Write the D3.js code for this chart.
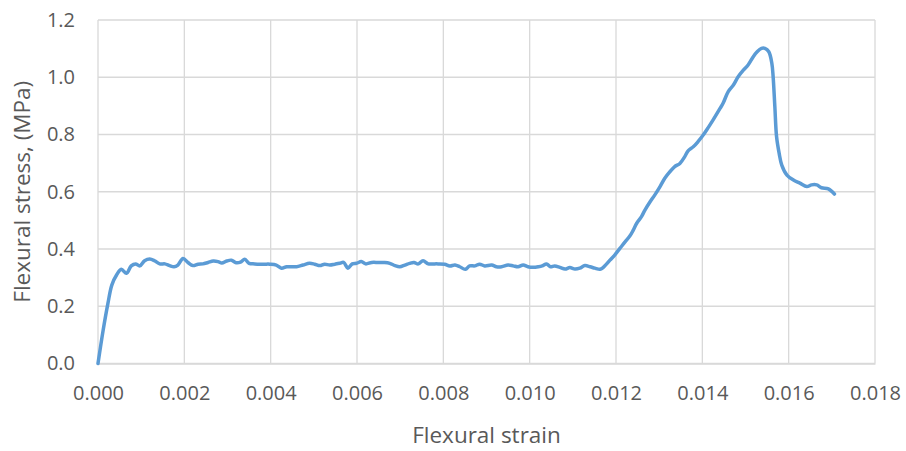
<!DOCTYPE html>
<html>
<head>
<meta charset="utf-8">
<script src="https://cdn.jsdelivr.net/npm/d3@7"></script>
<style>
  body { margin: 0; background: #fff; }
  text { font-family: "Open Sans", sans-serif; fill: #595959; }
</style>
</head>
<body>
<div id="visualization"></div>
<script>
// flexural strain (x) and stress in MPa (y)
var strain = [0, 0.00012, 0.00023, 0.00032, 0.00043, 0.00054, 0.00066, 0.00077, 0.00087, 0.00097,
  0.00108, 0.0012, 0.00131, 0.00143, 0.00155, 0.00166, 0.00176, 0.00185, 0.00197, 0.00209,
  0.0022, 0.00232, 0.00243, 0.00255, 0.00267, 0.00278, 0.00287, 0.00298, 0.00309, 0.0032,
  0.0033, 0.0034, 0.0035, 0.00363, 0.00375, 0.00386, 0.00398, 0.00413, 0.00425, 0.00437,
  0.00448, 0.0046, 0.00475, 0.0049, 0.00502, 0.00514, 0.00525, 0.00537, 0.00549, 0.0056,
  0.00569, 0.00579, 0.00589, 0.00599, 0.0061, 0.0062, 0.00634, 0.00649, 0.00664, 0.00676,
  0.00688, 0.00699, 0.00711, 0.00722, 0.00732, 0.00742, 0.00753, 0.00765, 0.00776, 0.00788,
  0.00803, 0.00815, 0.00827, 0.00838, 0.00851, 0.00861, 0.00873, 0.00884, 0.00896, 0.00912,
  0.00923, 0.00935, 0.0095, 0.00962, 0.00973, 0.00985, 0.00996, 0.01008, 0.0102, 0.01029,
  0.01039, 0.01048, 0.01058, 0.0107, 0.01082, 0.01093, 0.01105, 0.01116, 0.01128, 0.0114,
  0.01151, 0.01163, 0.0117, 0.01186, 0.01197, 0.01209, 0.01221, 0.01232, 0.0124, 0.01248,
  0.01259, 0.01267, 0.01279, 0.0129, 0.01302, 0.01313, 0.01325, 0.01336, 0.01348, 0.01359,
  0.01367, 0.01379, 0.0139, 0.01402, 0.01414, 0.01425, 0.01441, 0.01448, 0.0146, 0.01472,
  0.01483, 0.01495, 0.01506, 0.01518, 0.01527, 0.01537, 0.01545, 0.01554, 0.01561, 0.01564,
  0.01568, 0.01572, 0.01578, 0.01584, 0.01596, 0.01611, 0.01626, 0.01642, 0.01653, 0.01665,
  0.01676, 0.01692, 0.01706];

var stress = [0, 0.117, 0.21, 0.274, 0.309, 0.329, 0.315, 0.341, 0.348, 0.341,
  0.359, 0.365, 0.359, 0.348, 0.348, 0.342, 0.338, 0.344, 0.367, 0.352,
  0.342, 0.347, 0.348, 0.353, 0.358, 0.356, 0.351, 0.358, 0.361, 0.352,
  0.354, 0.364, 0.35, 0.348, 0.347, 0.347, 0.347, 0.344, 0.333, 0.338,
  0.338, 0.338, 0.344, 0.35, 0.347, 0.342, 0.347, 0.344, 0.347, 0.35,
  0.353, 0.333, 0.348, 0.35, 0.356, 0.348, 0.353, 0.353, 0.353, 0.35,
  0.342, 0.338, 0.344, 0.35, 0.353, 0.348, 0.359, 0.348, 0.348, 0.348,
  0.347, 0.341, 0.344, 0.338, 0.329, 0.341, 0.341, 0.347, 0.341, 0.344,
  0.338, 0.338, 0.344, 0.341, 0.338, 0.344, 0.338, 0.336, 0.338, 0.341,
  0.348, 0.338, 0.341, 0.336, 0.33, 0.335, 0.33, 0.333, 0.342, 0.338,
  0.333, 0.329, 0.335, 0.361, 0.379, 0.402, 0.425, 0.445, 0.466, 0.49,
  0.513, 0.536, 0.565, 0.589, 0.618, 0.647, 0.67, 0.688, 0.699, 0.722,
  0.743, 0.757, 0.775, 0.798, 0.825, 0.851, 0.891, 0.909, 0.95, 0.973,
  1.002, 1.025, 1.043, 1.072, 1.089, 1.101, 1.101, 1.089, 1.049, 1.002,
  0.897, 0.792, 0.734, 0.693, 0.658, 0.641, 0.63, 0.618, 0.624, 0.624,
  0.614, 0.61, 0.592];

var xTicks = [0, 0.002, 0.004, 0.006, 0.008, 0.010, 0.012, 0.014, 0.016, 0.018];
var yTicks = [0, 0.2, 0.4, 0.6, 0.8, 1.0, 1.2];

var xTitle = "Flexural strain";
var yTitle = "Flexural stress, (MPa)";

//////////////////////////////////////////////////////////////////////////////

var margin = { top: 20, right: 31, bottom: 87.5, left: 98 };
var width = 906 - margin.left - margin.right;
var height = 451 - margin.top - margin.bottom;

var svg = d3.select("#visualization").append("svg")
  .attr("width", 906)
  .attr("height", 451);

var g = svg.append("g")
  .attr("transform", "translate(" + margin.left + "," + margin.top + ")");

var xScale = d3.scaleLinear().domain([0, 0.018]).range([0, width]);
var yScale = d3.scaleLinear().domain([0, 1.2]).range([height, 0]);

// gridlines
g.selectAll("line.hgrid")
  .data(yTicks)
  .enter()
  .append("line")
  .attr("class", "hgrid")
  .attr("x1", 0)
  .attr("x2", width)
  .attr("y1", function(d) { return yScale(d); })
  .attr("y2", function(d) { return yScale(d); })
  .attr("stroke", "#d9d9d9")
  .attr("stroke-width", 1.3);

g.selectAll("line.vgrid")
  .data(xTicks)
  .enter()
  .append("line")
  .attr("class", "vgrid")
  .attr("y1", 0)
  .attr("y2", height)
  .attr("x1", function(d) { return xScale(d); })
  .attr("x2", function(d) { return xScale(d); })
  .attr("stroke", "#d9d9d9")
  .attr("stroke-width", 1.3);

// x axis
var xAxis = g.append("g")
  .attr("transform", "translate(0," + height + ")")
  .call(d3.axisBottom(xScale).tickValues(xTicks).tickSize(0).tickPadding(22)
    .tickFormat(d3.format(".3f")));
xAxis.select(".domain").attr("stroke", "#d9d9d9").attr("stroke-width", 1.3);
xAxis.selectAll("text").style("font-size", "20px").attr("fill", "#595959");

// y axis
var yAxis = g.append("g")
  .call(d3.axisLeft(yScale).tickValues(yTicks).tickSize(0).tickPadding(23)
    .tickFormat(d3.format(".1f")));
yAxis.select(".domain").remove();
yAxis.selectAll("text").style("font-size", "20px").attr("fill", "#595959");

// curve
var points = strain.map(function(d, i) { return [d, stress[i]]; });

var line = d3.line()
  .x(function(d) { return xScale(d[0]); })
  .y(function(d) { return yScale(d[1]); })
  .curve(d3.curveCatmullRom.alpha(0.5));

g.append("path")
  .datum(points)
  .attr("d", line)
  .attr("fill", "none")
  .attr("stroke", "#5b9bd5")
  .attr("stroke-width", 3.5)
  .attr("stroke-linejoin", "round")
  .attr("stroke-linecap", "round");

// axis titles
svg.append("text")
  .attr("x", margin.left + width / 2)
  .attr("y", 443)
  .attr("text-anchor", "middle")
  .style("font-size", "22.5px")
  .text(xTitle);

svg.append("text")
  .attr("transform", "translate(30," + (margin.top + height / 2) + ") rotate(-90)")
  .attr("text-anchor", "middle")
  .style("font-size", "22.5px")
  .text(yTitle);
</script>
</body>
</html>
